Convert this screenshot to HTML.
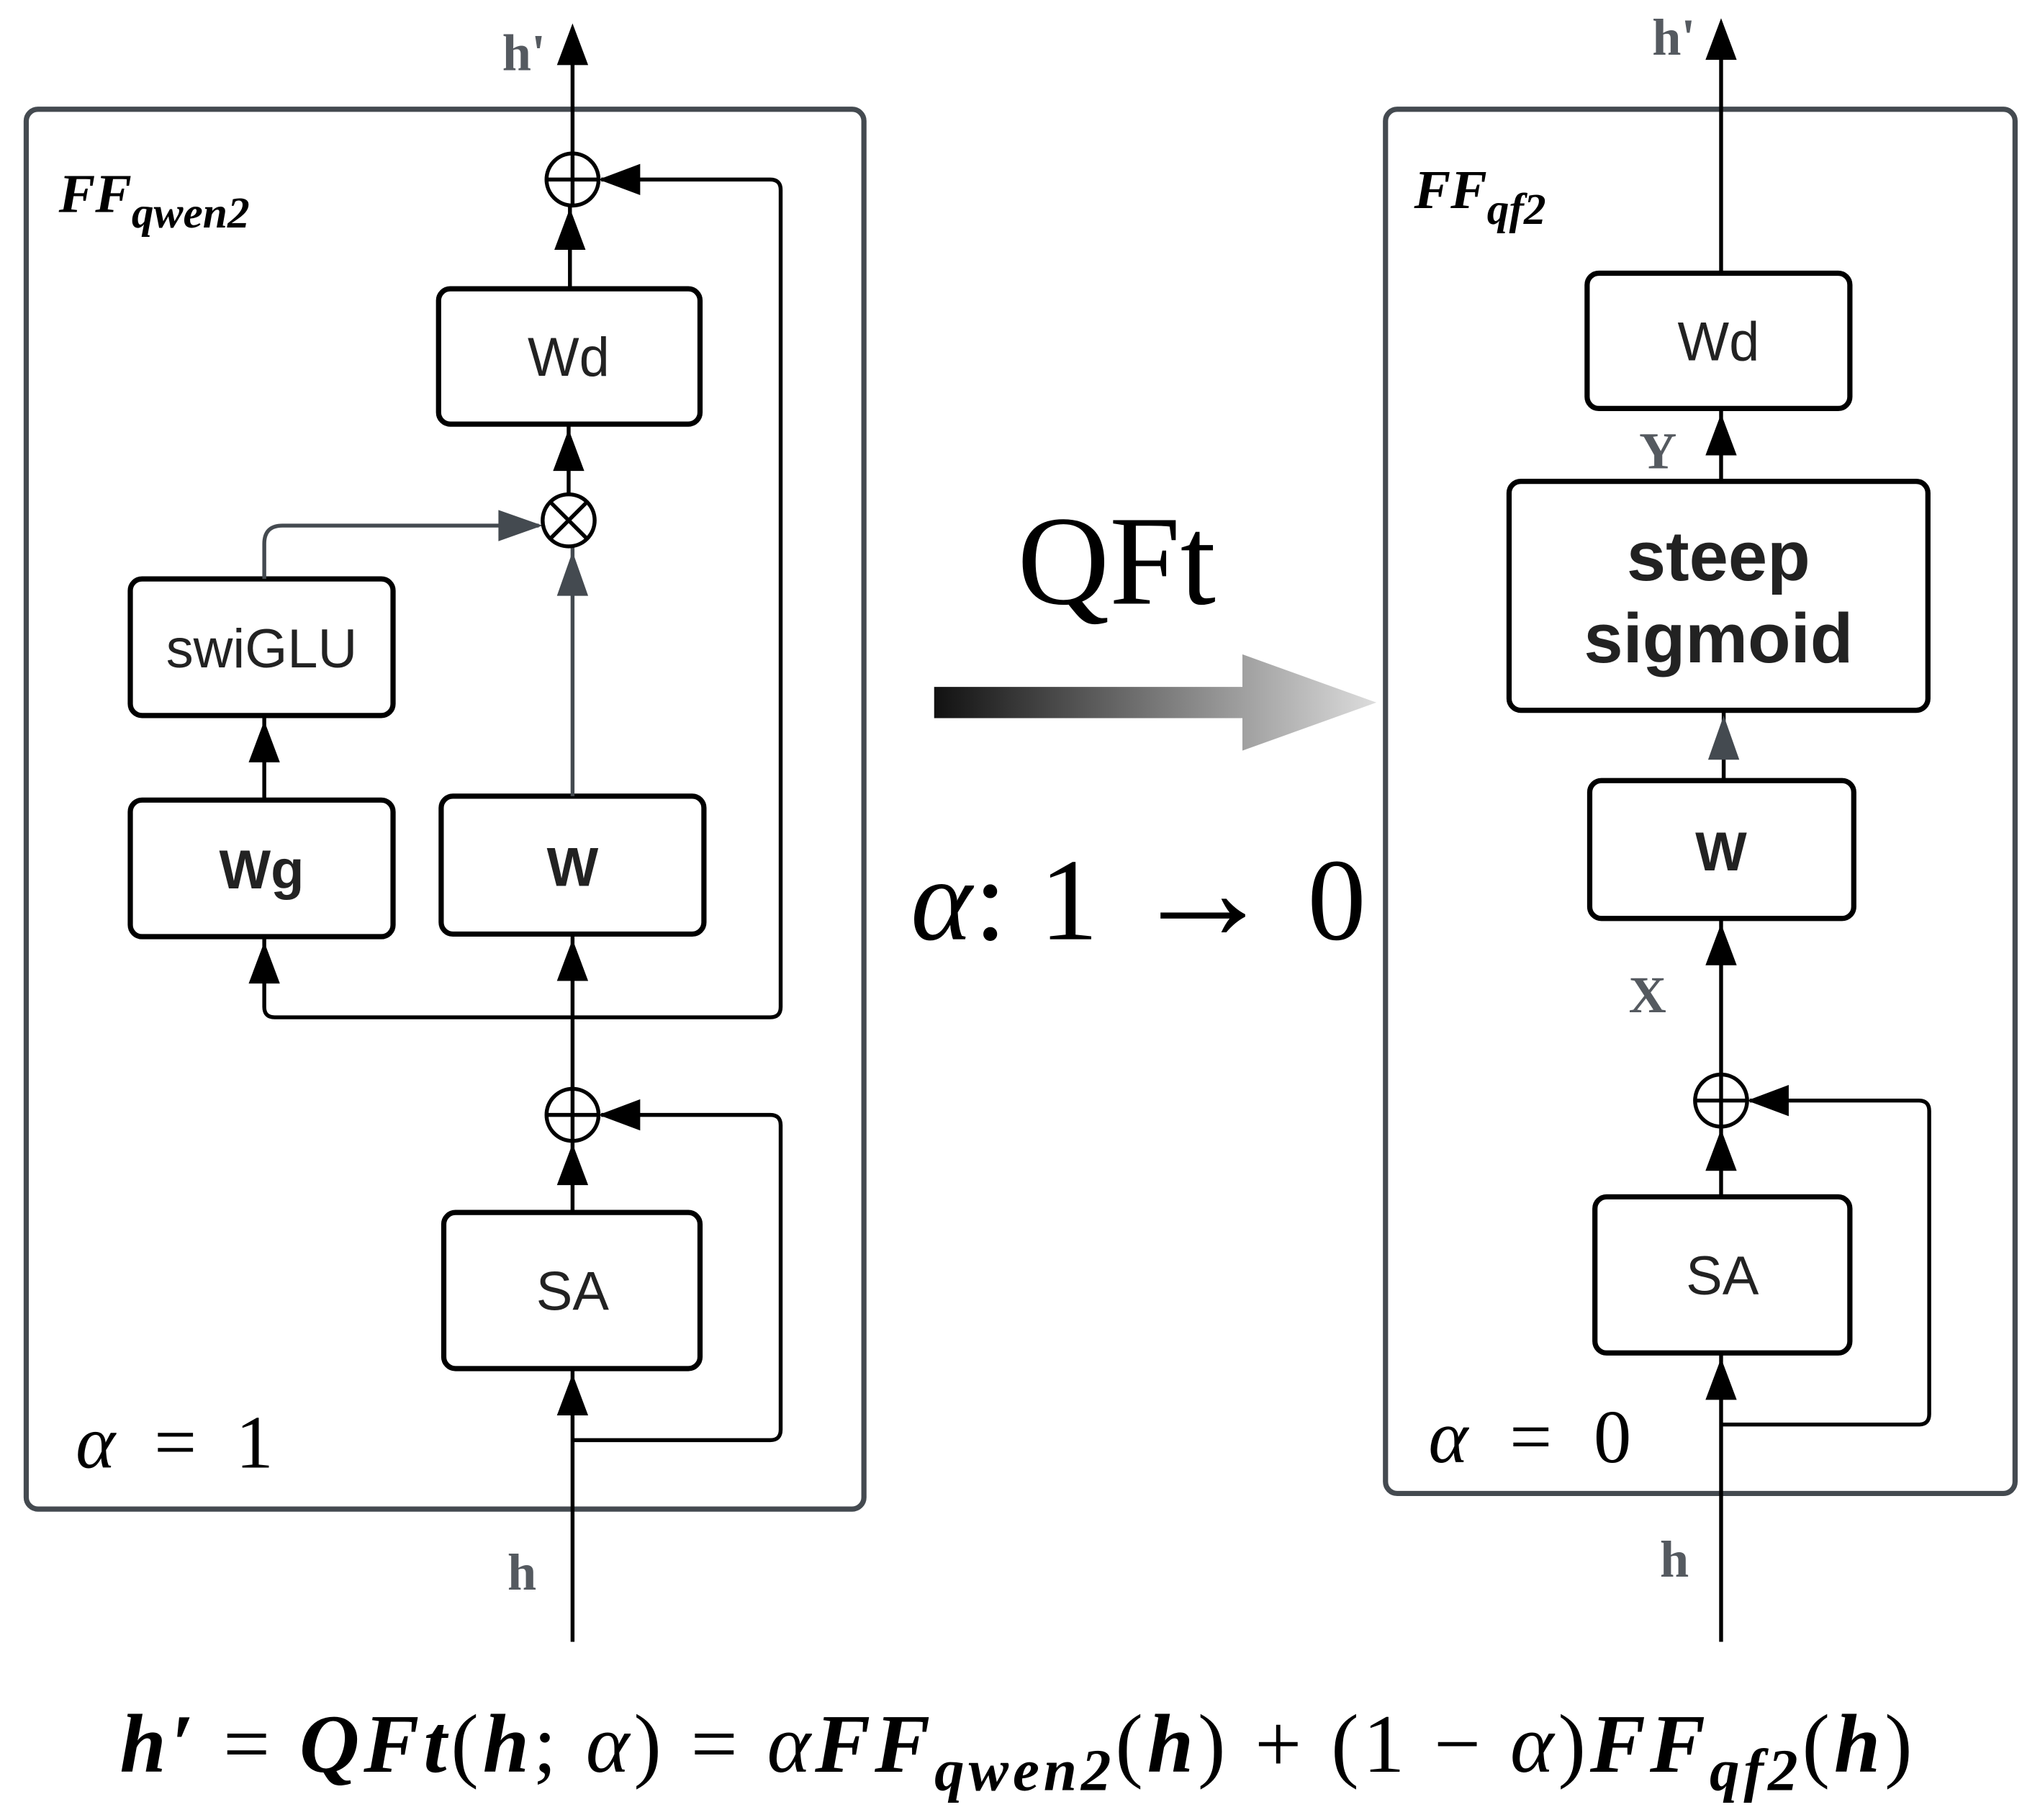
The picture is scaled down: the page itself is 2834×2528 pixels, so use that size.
<!DOCTYPE html>
<html><head><meta charset="utf-8"><style>
html,body{margin:0;padding:0;background:#fff;}
svg{display:block;}
</style></head><body>
<svg width="2834" height="2528" viewBox="0 0 1568 1399" xmlns="http://www.w3.org/2000/svg">
<defs>
<linearGradient id="g" x1="0" x2="1" y1="0" y2="0"><stop offset="0" stop-color="#111"/><stop offset="1" stop-color="#ddd"/></linearGradient>
</defs>
<g fill="none" stroke="#444a50" stroke-width="4">
<rect x="20" y="84" width="644" height="1076" rx="9"/>
<rect x="1065" y="84" width="484" height="1064" rx="9"/>
</g>
<g fill="none" stroke="#000" stroke-width="4">
<rect x="337" y="222" width="201" height="104" rx="9"/>
<rect x="100" y="445" width="202" height="105" rx="9"/>
<rect x="100" y="615" width="202" height="105" rx="9"/>
<rect x="339" y="612" width="202" height="106" rx="9"/>
<rect x="341" y="932" width="197" height="120" rx="9"/>
<rect x="1220" y="210" width="202" height="104" rx="9"/>
<rect x="1160" y="370" width="322" height="176" rx="9"/>
<rect x="1222" y="600" width="203" height="106" rx="9"/>
<rect x="1226" y="920" width="196" height="120" rx="9"/>
</g>
<g fill="none" stroke="#000" stroke-width="3">
<line x1="440" y1="1262" x2="440" y2="1052"/>
<line x1="440" y1="932" x2="440" y2="877"/>
<line x1="440" y1="837" x2="440" y2="718"/>
<line x1="438" y1="222" x2="438" y2="158"/>
<line x1="440" y1="118" x2="440" y2="22"/>
<line x1="437" y1="326" x2="437" y2="380"/>
<path d="M440,1107 H592 Q600,1107 600,1099 V865 Q600,857 592,857 H462"/>
<path d="M440,782 H592 Q600,782 600,774 V146 Q600,138 592,138 H462"/>
<path d="M440,782 H211 Q203,782 203,774 V720"/>
<line x1="203" y1="615" x2="203" y2="550"/>
<line x1="1323" y1="1262" x2="1323" y2="1040"/>
<line x1="1323" y1="920" x2="1323" y2="866"/>
<line x1="1323" y1="826" x2="1323" y2="706"/>
<line x1="1323" y1="370" x2="1323" y2="314"/>
<line x1="1323" y1="210" x2="1323" y2="18"/>
<path d="M1323,1095 H1475 Q1483,1095 1483,1087 V854 Q1483,846 1475,846 H1345"/>
<line x1="1325" y1="600" x2="1325" y2="546"/>
</g>
<g stroke="#444a50" stroke-width="3" fill="none">
<line x1="440" y1="612" x2="440" y2="420"/>
<path d="M203,445 V418 Q203,404 217,404 H414"/>
</g>
<g fill="#000">
<path d="M440,18 l-12,32 h24z"/>
<path d="M438,160 l-12,32 h24z"/>
<path d="M437,330 l-12,32 h24z"/>
<path d="M460,138 l32,-12 v24z"/>
<path d="M440,722 l-12,32 h24z"/>
<path d="M203,724 l-12,32 h24z"/>
<path d="M203,554 l-12,32 h24z"/>
<path d="M440,879 l-12,32 h24z"/>
<path d="M460,857 l32,-12 v24z"/>
<path d="M440,1056 l-12,32 h24z"/>
<path d="M1323,14 l-12,32 h24z"/>
<path d="M1323,318 l-12,32 h24z"/>
<path d="M1323,710 l-12,32 h24z"/>
<path d="M1323,868 l-12,32 h24z"/>
<path d="M1343,846 l32,-12 v24z"/>
<path d="M1323,1044 l-12,32 h24z"/>
</g>
<g fill="#444a50">
<path d="M417,404 l-34,-12 v24z"/>
<path d="M440,424 l-12,34 h24z"/>
<path d="M1325,550 l-12,34 h24z"/>
</g>
<g fill="#fff" stroke="#000" stroke-width="3">
<circle cx="440" cy="138" r="20"/><path d="M420,138 H460 M440,118 V158"/>
<circle cx="437" cy="400" r="20"/><path d="M423,386 L451,414 M451,386 L423,414"/>
<circle cx="440" cy="857" r="20"/><path d="M420,857 H460 M440,837 V877"/>
<circle cx="1323" cy="846" r="20"/><path d="M1303,846 H1343 M1323,826 V866"/>
</g>
<path d="M718,528 H955 V503 L1058,540 L955,577 V552 H718 Z" fill="url(#g)"/>
<g font-family="Liberation Sans, sans-serif" font-size="42" text-anchor="middle" fill="#222">
<text x="437" y="289">Wd</text>
<text x="201" y="513">swiGLU</text>
<text x="201" y="683" font-weight="bold">Wg</text>
<text x="440" y="681" font-weight="bold">W</text>
<text x="440" y="1007">SA</text>
<text x="1321" y="277">Wd</text>
<text x="1321" y="446" font-weight="bold" font-size="54">steep</text>
<text x="1321" y="509" font-weight="bold" font-size="54">sigmoid</text>
<text x="1323" y="669" font-weight="bold">W</text>
<text x="1324" y="995">SA</text>
</g>
<g font-family="Liberation Serif, serif" font-weight="bold" font-size="40" fill="#555a60">
<text x="386" y="54">h'</text>
<text x="1270" y="42">h'</text>
<text x="390" y="1222">h</text>
<text x="1276" y="1212">h</text>
<text x="1260" y="360">Y</text>
<text x="1252" y="778">X</text>
</g>
<g font-family="Liberation Serif, serif" font-style="italic" font-weight="bold" fill="#000">
<text x="45" y="163" font-size="42">FF<tspan font-size="34" dy="12">qwen2</tspan></text>
<text x="1087" y="160" font-size="42">FF<tspan font-size="34" dy="12">qf2</tspan></text>
</g>
<g font-family="Liberation Serif, serif" font-size="58" fill="#000">
<text x="58" y="1128" textLength="152" lengthAdjust="spacing"><tspan font-style="italic">α</tspan> = 1</text>
<text x="1098" y="1124" textLength="156" lengthAdjust="spacing"><tspan font-style="italic">α</tspan> = 0</text>
<text x="782" y="464" font-size="98">QFt</text>
<text x="700" y="722" font-size="90" textLength="350" lengthAdjust="spacing"><tspan font-style="italic">α</tspan>: 1 <tspan font-size="110">→</tspan> 0</text>
</g>
<text x="92" y="1362" font-family="Liberation Serif, serif" font-size="64" fill="#000" textLength="1378" lengthAdjust="spacing"><tspan font-weight="bold" font-style="italic">h′</tspan> = <tspan font-weight="bold" font-style="italic">QFt</tspan>(<tspan font-weight="bold" font-style="italic">h</tspan>; <tspan font-style="italic">α</tspan>) = <tspan font-style="italic">α</tspan><tspan font-weight="bold" font-style="italic">FF</tspan><tspan font-weight="bold" font-style="italic" font-size="46" dy="14">qwen2</tspan><tspan dy="-14">(</tspan><tspan font-weight="bold" font-style="italic">h</tspan>) + (1 − <tspan font-style="italic">α</tspan>)<tspan font-weight="bold" font-style="italic">FF</tspan><tspan font-weight="bold" font-style="italic" font-size="46" dy="14">qf2</tspan><tspan dy="-14">(</tspan><tspan font-weight="bold" font-style="italic">h</tspan>)</text>
</svg>
</body></html>
